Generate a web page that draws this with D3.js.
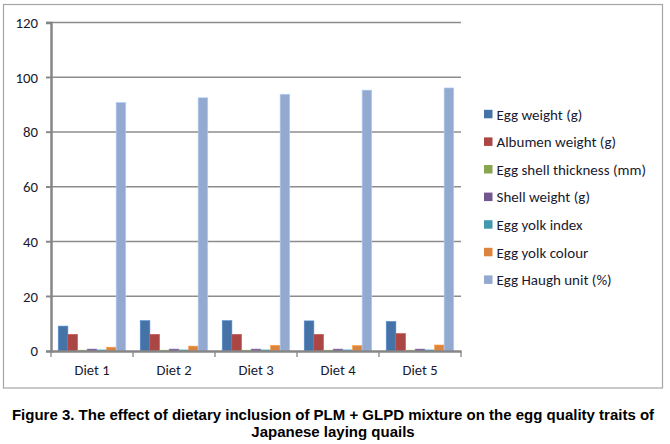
<!DOCTYPE html>
<html>
<head>
<meta charset="utf-8">
<script src="https://cdn.jsdelivr.net/npm/d3@7"></script>
<style>
  body { margin: 0; background: #fff; }
  svg text { font-family: Carlito, "Open Sans", sans-serif; }
  svg .caption text { font-family: "Liberation Sans Narrow", "Liberation Sans", Arial, sans-serif; font-weight: bold; }
</style>
</head>
<body>
<svg id="chart" width="670" height="444"></svg>
<script>
const width = 670;
const height = 444;
const margin = { top: 22.5, right: 209, bottom: 93, left: 51 };

// data
const diets = ["Diet 1", "Diet 2", "Diet 3", "Diet 4", "Diet 5"];
const traits = [
    "Egg weight (g)",
    "Albumen weight (g)",
    "Egg shell thickness (mm)",
    "Shell weight (g)",
    "Egg yolk index",
    "Egg yolk colour",
    "Egg Haugh unit (%)"
];
const eggWeight = [9.1, 11.1, 11.1, 11.0, 10.8];
const albumenWeight = [6.1, 6.1, 6.1, 6.1, 6.4];
const shellThickness = [0.3, 0.3, 0.3, 0.3, 0.3];
const shellWeight = [0.7, 0.7, 0.7, 0.7, 0.7];
const yolkIndex = [0.4, 0.4, 0.4, 0.4, 0.4];
const yolkColour = [1.4, 1.8, 2.1, 2.0, 2.2];
const haughUnit = [90.8, 92.5, 93.8, 95.3, 96.1];
const yTicks = [0, 20, 40, 60, 80, 100, 120];

const series = [eggWeight, albumenWeight, shellThickness, shellWeight, yolkIndex, yolkColour, haughUnit];
const colors = ["#4572A7", "#AA4643", "#89A54E", "#71588F", "#4198AF", "#DB843D", "#93A9CF"];

const svg = d3.select("#chart");

// outer frame
svg.append("rect")
    .attr("x", 3.5).attr("y", 4.5)
    .attr("width", 659).attr("height", 383.5)
    .attr("fill", "none")
    .attr("stroke", "#a6a6a6")
    .attr("stroke-width", 1.2);

const x0 = d3.scaleBand()
    .domain(diets)
    .range([margin.left, width - margin.right]);

const x1 = d3.scaleBand()
    .domain(d3.range(traits.length))
    .range([0, x0.bandwidth()])
    .paddingOuter(0.75);

const y = d3.scaleLinear()
    .domain([0, 120])
    .range([height - margin.bottom, margin.top]);

// gridlines
svg.append("g")
    .selectAll("line")
    .data(yTicks.filter(d => d > 0))
    .join("line")
    .attr("x1", margin.left - 5)
    .attr("x2", width - margin.right)
    .attr("y1", d => y(d))
    .attr("y2", d => y(d))
    .attr("stroke", "#8c8c8c")
    .attr("stroke-width", 1.3);

// bars
const groups = svg.append("g")
    .selectAll("g")
    .data(diets)
    .join("g")
    .attr("transform", d => `translate(${x0(d)},0)`);

groups.selectAll("rect")
    .data((d, i) => series.map((s, k) => ({ k, v: s[i] })))
    .join("rect")
    .attr("x", d => x1(d.k))
    .attr("width", x1.bandwidth())
    .attr("y", d => y(d.v))
    .attr("height", d => y(0) - y(d.v))
    .attr("fill", d => colors[d.k])
    .attr("stroke", d => d3.color(colors[d.k]).brighter(0.6))
    .attr("stroke-width", 0.6);

// y axis
const yAxis = svg.append("g")
    .attr("transform", `translate(${margin.left},0)`)
    .call(d3.axisLeft(y).tickValues(yTicks).tickSize(5).tickPadding(8));
yAxis.select(".domain").attr("stroke", "#868686").attr("stroke-width", 2.5);
yAxis.selectAll(".tick line").attr("stroke", "#868686").attr("stroke-width", 1.3);
yAxis.selectAll(".tick text").attr("font-size", 14.8).attr("fill", "#1a1a2e")
    .attr("font-family", 'Carlito, "Open Sans", sans-serif');

// x axis
const xAxis = svg.append("g")
    .attr("transform", `translate(0,${y(0)})`)
    .call(d3.axisBottom(x0).tickSize(0).tickPadding(14));
xAxis.select(".domain").attr("stroke", "#868686").attr("stroke-width", 2.5);
xAxis.selectAll(".tick text").attr("font-size", 14.6).attr("fill", "#1a1a2e")
    .attr("font-family", 'Carlito, "Open Sans", sans-serif');

// category separators
svg.append("g")
    .selectAll("line")
    .data(diets.map(d => x0(d)).concat([width - margin.right]))
    .join("line")
    .attr("x1", d => d).attr("x2", d => d)
    .attr("y1", y(0)).attr("y2", y(0) + 6)
    .attr("stroke", "#868686")
    .attr("stroke-width", 1.3);

// legend
const legend = svg.append("g")
    .selectAll("g")
    .data(traits)
    .join("g")
    .attr("transform", (d, i) => `translate(484,${114.3 + i * 27.6})`);

legend.append("rect")
    .attr("x", 0).attr("y", -4.5)
    .attr("width", 8.5).attr("height", 8.5)
    .attr("fill", (d, i) => colors[i]);

legend.append("text")
    .attr("x", 12.5)
    .attr("dy", "0.35em")
    .attr("font-size", 15)
    .attr("fill", "#1a1a2e")
    .text(d => d);

// caption
const caption = svg.append("g").attr("class", "caption");
caption.append("text")
    .attr("x", 333).attr("y", 419.5)
    .attr("text-anchor", "middle")
    .attr("font-size", 15)
    .text("Figure 3. The effect of dietary inclusion of PLM + GLPD mixture on the egg quality traits of");
caption.append("text")
    .attr("x", 333).attr("y", 436.5)
    .attr("text-anchor", "middle")
    .attr("font-size", 15)
    .text("Japanese laying quails");
</script>
</body>
</html>
